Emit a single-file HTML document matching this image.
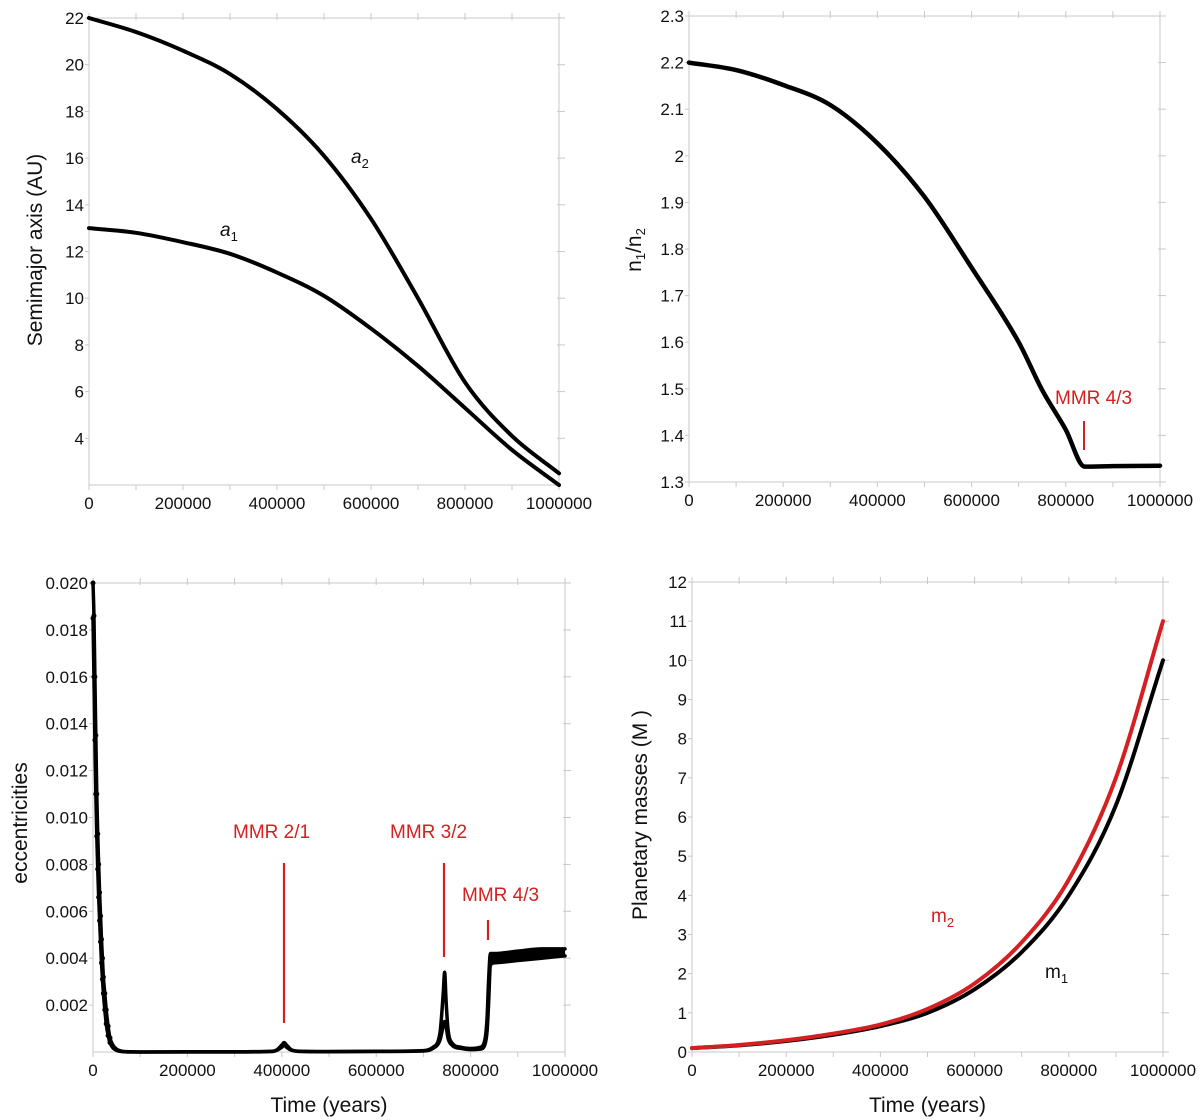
<!DOCTYPE html>
<html><head><meta charset="utf-8">
<style>
html,body{margin:0;padding:0;background:#fff;}
svg{display:block;font-family:"Liberation Sans",sans-serif;}
</style></head>
<body>
<svg id="fig" width="1200" height="1120" viewBox="0 0 1200 1120"></svg>
<script>
// ---- data ----
const timeK = [0,100,200,300,400,500,600,700,800,900,1000];
const a2Vals = [22,21.4,20.6,19.6,18.1,16.1,13.4,10.0,6.4,4.1,2.5];
const a1Vals = [13.0,12.8,12.4,11.9,11.1,10.1,8.7,7.1,5.3,3.5,2.0];
const ratioTimeK = [0,100,200,300,400,500,600,700,750,800,840,900,1000];
const ratioVals = [2.2,2.184,2.152,2.109,2.027,1.912,1.76,1.6,1.497,1.412,1.333,1.334,1.335];
const eccTimeK = [0,2,4,6,8,10,12,14,16,18,20,22,25,28,32,36,42,50,60,80,100,200,300,380,390,400,405,410,420,440,500,600,700,720,735,742,745,748,752,760,780,800,820,830,835,838,842,850,900,950,1000];
const ecc1Vals = [0.020,0.0186,0.016,0.0135,0.011,0.0093,0.008,0.0068,0.0058,0.0048,0.004,0.0032,0.0025,0.0018,0.0011,0.0006,0.0003,0.00012,0.00004,0.00001,0,0.00001,0.00001,0.00003,0.0001,0.0003,0.0004,0.0003,0.0001,0.00003,0.00002,0.00003,0.00006,0.0002,0.0008,0.0025,0.0034,0.0022,0.001,0.0004,0.0002,0.00015,0.0002,0.0005,0.0015,0.003,0.0042,0.0042,0.0043,0.0044,0.0044];
const ecc2Vals = [0.0185,0.016,0.0133,0.011,0.0092,0.0078,0.0066,0.0056,0.0047,0.0038,0.0031,0.0025,0.0018,0.0012,0.0007,0.0004,0.00018,0.00007,0.00002,0,0,0,0,0.00002,0.00008,0.0002,0.0003,0.0002,0.00008,0.00002,0.00001,0.00002,0.00004,0.00015,0.0005,0.0011,0.0013,0.0011,0.0006,0.0003,0.00015,0.0001,0.00012,0.0003,0.0009,0.002,0.0037,0.0038,0.0039,0.004,0.0041];
const m2Vals = [0.1,0.18,0.3,0.47,0.7,1.1,1.75,2.8,4.4,7.0,11];
const m1Vals = [0.1,0.17,0.28,0.44,0.66,1.0,1.6,2.55,4.0,6.3,10];
const xTickLabels = ["0","200000","400000","600000","800000","1000000"];
const ticksA = ["4","6","8","10","12","14","16","18","20","22"];
const ticksR = ["1.3","1.4","1.5","1.6","1.7","1.8","1.9","2","2.1","2.2","2.3"];
const ticksE = ["0.002","0.004","0.006","0.008","0.010","0.012","0.014","0.016","0.018","0.020"];
const ticksM = ["0","1","2","3","4","5","6","7","8","9","10","11","12"];

const NS="http://www.w3.org/2000/svg";
const svg=document.getElementById('fig');
function mk(tag,attrs,name,parent){
  const el=document.createElementNS(NS,tag);
  for(const k in attrs) el.setAttribute(k,attrs[k]);
  
  
  (parent||svg).appendChild(el);
  return el;
}
function panel(p){
  const g=mk('g',{},p.name);
  const X=t=>p.x0+(t/1000)*(p.x1-p.x0);
  const Y=v=>p.yb+(v-p.ymin)/(p.ymax-p.ymin)*(p.yt-p.yb);
  p.X=X;p.Y=Y;
  mk('rect',{x:p.x0,y:p.yt,width:p.x1-p.x0,height:p.yb-p.yt,fill:'none',stroke:'#c8c8c8','stroke-width':1},'plot-frame',g);
  for(let i=0;i<=10;i++){
    const x=X(i*100);
    mk('line',{x1:x,x2:x,y1:p.yt-5,y2:p.yt+2,stroke:'#c8c8c8'},'top-tick',g);
    mk('line',{x1:x,x2:x,y1:p.yb,y2:p.yb+5,stroke:'#c8c8c8'},'x-tick',g);
  }
  xTickLabels.forEach((s,i)=>{
    const t=mk('text',{x:X(i*200),y:p.yb+24,'font-size':17,'text-anchor':'middle',fill:'#111'},'x-tick-label',g);
    t.textContent=s;
  });
  p.ticks.forEach(s=>{
    const v=parseFloat(s),y=Y(v);
    mk('line',{x1:p.x1-2,x2:p.x1+6,y1:y,y2:y,stroke:'#c8c8c8'},'right-tick',g);
    mk('line',{x1:p.x0-4,x2:p.x0,y1:y,y2:y,stroke:'#c8c8c8'},'y-tick',g);
    const t=mk('text',{x:p.x0-5,y:y+6,'font-size':17,'text-anchor':'end',fill:'#111'},'y-tick-label',g);
    t.textContent=s;
  });
  const yl=mk('text',{x:0,y:0,'font-size':21,'text-anchor':'middle',fill:'#111',transform:`translate(${p.ylx},${p.yly}) rotate(-90)`},'y-axis-title',g);
  yl.innerHTML=p.ylabel;
  if(p.xlabel){
    const xl=mk('text',{x:(p.x0+p.x1)/2,y:1112,'font-size':21,'text-anchor':'middle',fill:'#111'},'x-axis-title',g);
    xl.textContent=p.xlabel;
  }
  return g;
}
function smooth(pts){
  // monotone cubic (Fritsch-Carlson) to avoid overshoot
  const n=pts.length;
  const dx=[],m=[],s=[];
  for(let i=0;i<n-1;i++){dx.push(pts[i+1][0]-pts[i][0]);s.push((pts[i+1][1]-pts[i][1])/dx[i]);}
  m[0]=s[0];m[n-1]=s[n-2];
  for(let i=1;i<n-1;i++){ m[i]=(s[i-1]*s[i]<=0)?0:(s[i-1]+s[i])/2; }
  for(let i=0;i<n-1;i++){
    if(s[i]===0){m[i]=0;m[i+1]=0;continue;}
    const a=m[i]/s[i],b=m[i+1]/s[i],h=a*a+b*b;
    if(h>9){const t=3/Math.sqrt(h);m[i]=t*a*s[i];m[i+1]=t*b*s[i];}
  }
  let d=`M${pts[0][0]},${pts[0][1]}`;
  for(let i=0;i<n-1;i++){
    const h=dx[i]/3;
    d+=` C${pts[i][0]+h},${pts[i][1]+m[i]*h} ${pts[i+1][0]-h},${pts[i+1][1]-m[i+1]*h} ${pts[i+1][0]},${pts[i+1][1]}`;
  }
  return d;
}
function line(p,g,ts,vs,color,w,name){
  const pts=ts.map((t,i)=>[p.X(t),p.Y(vs[i])]);
  mk('path',{d:smooth(pts),fill:'none',stroke:color,'stroke-width':w,'stroke-linecap':'round','stroke-linejoin':'round'},name,g);
}
function label(g,x,y,html,color,size,name,style){
  const t=mk('text',{x:x,y:y,'font-size':size,fill:color,'font-style':style||'normal'},name,g);
  t.innerHTML=html;
}

// Panel 1
const P1={name:'semimajor-panel',x0:89,x1:559,yt:18,yb:485,ymin:2,ymax:22,ticks:ticksA,ylabel:'Semimajor axis (AU)',ylx:42,yly:250};
const g1=panel(P1);
line(P1,g1,timeK,a2Vals,'#000',4,'a2-line');
line(P1,g1,timeK,a1Vals,'#000',4,'a1-line');
label(g1,351,163,'a<tspan font-size="13" dy="5" font-style="normal">2</tspan>','#111',19,'a2-label','italic');
label(g1,220,236,'a<tspan font-size="13" dy="5" font-style="normal">1</tspan>','#111',19,'a1-label','italic');

// Panel 2
const P2={name:'ratio-panel',x0:689,x1:1160,yt:16,yb:482,ymin:1.3,ymax:2.3,ticks:ticksR,ylabel:'n<tspan font-size="13" dy="4">1</tspan><tspan dy="-4">/n</tspan><tspan font-size="13" dy="4">2</tspan>',ylx:641,yly:250};
const g2=panel(P2);
line(P2,g2,ratioTimeK,ratioVals,'#000',4.5,'ratio-line');
label(g2,1055,404,'MMR 4/3','#d42020',19,'mmr43-label');
mk('line',{x1:1084,x2:1084,y1:421,y2:450,stroke:'#d42020','stroke-width':2},'mmr43-marker',g2);

// Panel 3
const P3={name:'eccentricity-panel',x0:93,x1:565,yt:583,yb:1052,ymin:0,ymax:0.020,ticks:ticksE,ylabel:'eccentricities',ylx:27,yly:823,xlabel:'Time (years)'};
const g3=panel(P3);
const bandPts=[];
eccTimeK.forEach((t,i)=>{ if(t>=842) bandPts.push([P3.X(t),P3.Y(ecc1Vals[i])]); });
for(let i=eccTimeK.length-1;i>=0;i--){ if(eccTimeK[i]>=842) bandPts.push([P3.X(eccTimeK[i]),P3.Y(ecc2Vals[i])]); }
mk('polygon',{points:bandPts.map(q=>q.join(',')).join(' '),fill:'#000'},'ecc-band',g3);
line(P3,g3,eccTimeK,ecc1Vals,'#000',3.5,'ecc1-series');
line(P3,g3,eccTimeK,ecc2Vals,'#000',3.5,'ecc2-series');
eccTimeK.forEach((t,i)=>{
  if(t<=40){
    mk('circle',{cx:P3.X(t),cy:P3.Y(ecc1Vals[i]),r:2.5,fill:'#000'},'ecc1-point',g3);
    mk('circle',{cx:P3.X(t),cy:P3.Y(ecc2Vals[i]),r:2.5,fill:'#000'},'ecc2-point',g3);
  }
});
label(g3,233,838,'MMR 2/1','#d42020',19,'mmr21-label');
label(g3,390,838,'MMR 3/2','#d42020',19,'mmr32-label');
label(g3,462,901,'MMR 4/3','#d42020',19,'mmr43-ecc-label');
mk('line',{x1:284,x2:284,y1:863,y2:1023,stroke:'#d42020','stroke-width':2.2},'mmr21-marker',g3);
mk('line',{x1:444,x2:444,y1:863,y2:957,stroke:'#d42020','stroke-width':2.2},'mmr32-marker',g3);
mk('line',{x1:488,x2:488,y1:920,y2:940,stroke:'#d42020','stroke-width':2.2},'mmr43-ecc-marker',g3);

// Panel 4
const P4={name:'mass-panel',x0:692,x1:1163,yt:582,yb:1052,ymin:0,ymax:12,ticks:ticksM,ylabel:'Planetary masses (M )',ylx:647,yly:815,xlabel:'Time (years)'};
const g4=panel(P4);
line(P4,g4,timeK,m1Vals,'#000',4,'m1-line');
line(P4,g4,timeK,m2Vals,'#d42020',4,'m2-line');
label(g4,931,922,'m<tspan font-size="13" dy="5">2</tspan>','#d42020',19,'m2-label');
label(g4,1045,978,'m<tspan font-size="13" dy="5">1</tspan>','#111',19,'m1-label');
</script>
</body></html>
